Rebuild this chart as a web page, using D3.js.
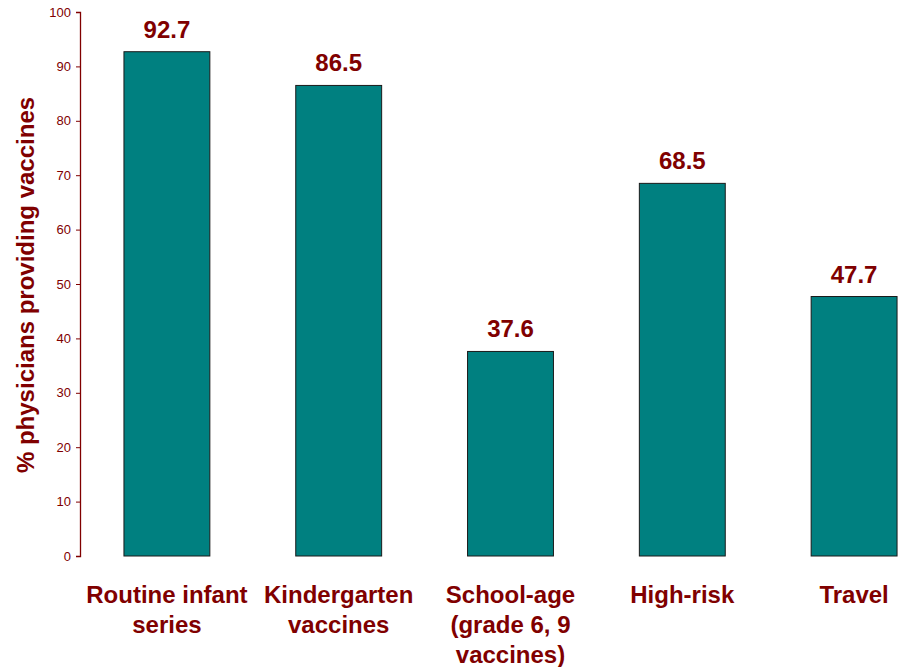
<!DOCTYPE html>
<html>
<head>
<meta charset="utf-8">
<script src="https://cdn.jsdelivr.net/npm/d3@7"></script>
<style>
  html, body { margin: 0; padding: 0; background: #fff; }
  svg { display: block; font-family: Arial, "Liberation Sans", sans-serif; }
</style>
</head>
<body>
<svg id="chart" width="903" height="667"></svg>
<script>
// Share of physicians providing each type of vaccine
const categories = [
  ["Routine infant", "series"],
  ["Kindergarten", "vaccines"],
  ["School-age", "(grade 6, 9", "vaccines)"],
  ["High-risk"],
  ["Travel"]
];
const values = [92.7, 86.5, 37.6, 68.5, 47.7];
const yTicks = [0, 10, 20, 30, 40, 50, 60, 70, 80, 90, 100];
const yTitle = "% physicians providing vaccines";

const ink = "#800000";
const svg = d3.select("#chart");
const keys = categories.map((c, i) => i);

const x = d3.scaleBand()
  .domain(keys)
  .range([81, 940])
  .paddingInner(0.5)
  .paddingOuter(0.25);

const y = d3.scaleLinear().domain([0, 100]).range([556, 12]);

// y axis
const yAxis = svg.append("g")
  .attr("transform", "translate(80,0)")
  .call(d3.axisLeft(y).tickValues(yTicks).tickSize(4).tickPadding(5).tickSizeOuter(4));
yAxis.select(".domain").attr("stroke", ink).attr("stroke-width", 1.3);
yAxis.selectAll(".tick line").attr("stroke", ink);
yAxis.selectAll(".tick text")
  .attr("fill", ink)
  .style("font-size", "13px")
  .style("font-family", "Arial, 'Liberation Sans', sans-serif");

// bars
svg.append("g").selectAll("rect")
  .data(values)
  .join("rect")
  .attr("x", (d, i) => x(i))
  .attr("width", x.bandwidth())
  .attr("y", d => y(d))
  .attr("height", d => y(0) - y(d))
  .attr("fill", "#008080")
  .attr("stroke", "#1a1a1a")
  .attr("stroke-width", 1);

// value labels
svg.append("g").selectAll("text")
  .data(values)
  .join("text")
  .attr("x", (d, i) => x(i) + x.bandwidth() / 2)
  .attr("y", d => y(d) - 14)
  .attr("text-anchor", "middle")
  .attr("fill", ink)
  .style("font-size", "24px")
  .style("font-weight", "bold")
  .text(d => d.toFixed(1));

// category labels
const cat = svg.append("g").selectAll("text")
  .data(categories)
  .join("text")
  .attr("text-anchor", "middle")
  .attr("fill", ink)
  .style("font-size", "24px")
  .style("font-weight", "bold");
cat.each(function(lines, i) {
  d3.select(this).selectAll("tspan")
    .data(lines)
    .join("tspan")
    .attr("x", x(i) + x.bandwidth() / 2)
    .attr("y", (d, j) => 603 + j * 30)
    .text(d => d);
});

// y axis title
svg.append("text")
  .attr("transform", "translate(34,285) rotate(-90)")
  .attr("text-anchor", "middle")
  .attr("fill", ink)
  .style("font-size", "24px")
  .style("font-weight", "bold")
  .text(yTitle);
</script>
</body>
</html>
